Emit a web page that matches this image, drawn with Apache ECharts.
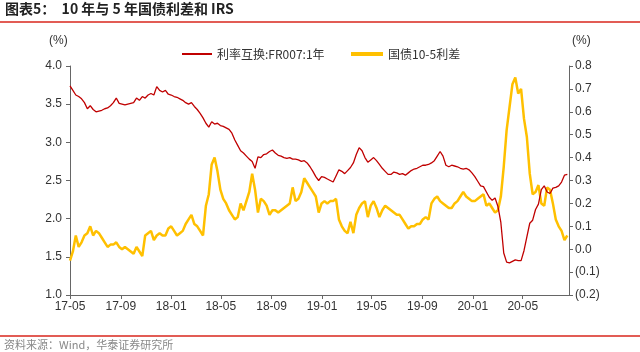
<!DOCTYPE html>
<html><head><meta charset="utf-8">
<script src="https://cdn.jsdelivr.net/npm/echarts@6/dist/echarts.min.js"></script>
<style>html,body{margin:0;padding:0;background:#fff}#c{width:640px;height:352px}</style>
</head><body><div id="c"></div>
<script>
// weekly observations starting 2017-05-01
const startDate = [2017, 4, 1];
const endDate = [2020, 7, 21];
const stepDays = 7;
const irsFR007 = [
3.74,3.68,3.62,3.60,3.57,3.52,3.44,3.48,3.43,3.40,3.41,3.42,3.44,3.45,3.48,3.52,3.58,3.51,3.50,3.49,
3.50,3.51,3.52,3.58,3.55,3.60,3.58,3.62,3.64,3.62,3.73,3.68,3.66,3.68,3.63,3.62,3.60,3.59,3.57,3.55,
3.52,3.50,3.52,3.47,3.43,3.38,3.32,3.25,3.20,3.27,3.24,3.25,3.22,3.21,3.19,3.17,3.12,3.03,2.96,2.89,
2.86,2.82,2.78,2.75,2.66,2.81,2.80,2.84,2.85,2.88,2.90,2.86,2.83,2.82,2.80,2.79,2.80,2.78,2.78,2.77,
2.75,2.76,2.73,2.68,2.62,2.55,2.50,2.55,2.54,2.52,2.50,2.48,2.56,2.64,2.62,2.59,2.63,2.67,2.73,2.84,
2.93,2.89,2.80,2.74,2.77,2.80,2.76,2.71,2.66,2.62,2.58,2.58,2.61,2.60,2.58,2.59,2.57,2.60,2.63,2.65,
2.66,2.68,2.70,2.70,2.71,2.73,2.76,2.82,2.88,2.82,2.70,2.68,2.70,2.69,2.68,2.66,2.65,2.66,2.64,2.60,
2.55,2.49,2.43,2.42,2.35,2.28,2.24,2.27,2.16,1.95,1.55,1.43,1.42,1.44,1.46,1.45,1.45,1.58,1.76,1.94,
1.98,2.12,2.19,2.38,2.43,2.35,2.33,2.40,2.41,2.43,2.48,2.57,2.58
];
const spread10y5y = [
-0.05,-0.01,0.06,0.01,0.03,0.06,0.07,0.10,0.06,0.08,0.07,0.05,0.03,0.01,0.02,0.02,0.03,0.01,0.00,0.01,
0.00,-0.01,-0.02,0.01,-0.01,-0.03,0.06,0.07,0.08,0.04,0.06,0.07,0.06,0.06,0.09,0.10,0.08,0.06,0.07,0.08,
0.11,0.13,0.15,0.11,0.10,0.08,0.06,0.19,0.24,0.37,0.40,0.34,0.26,0.22,0.20,0.17,0.15,0.13,0.14,0.20,
0.17,0.21,0.25,0.33,0.26,0.16,0.22,0.21,0.19,0.15,0.17,0.17,0.16,0.17,0.18,0.19,0.20,0.27,0.21,0.22,
0.25,0.31,0.29,0.27,0.25,0.23,0.16,0.20,0.21,0.20,0.21,0.21,0.22,0.13,0.10,0.08,0.07,0.12,0.07,0.15,
0.18,0.20,0.21,0.14,0.19,0.21,0.18,0.14,0.17,0.19,0.18,0.17,0.16,0.15,0.15,0.13,0.11,0.09,0.10,0.10,
0.11,0.11,0.13,0.14,0.13,0.20,0.22,0.23,0.21,0.20,0.19,0.18,0.18,0.20,0.21,0.23,0.25,0.23,0.22,0.21,
0.21,0.22,0.23,0.24,0.19,0.20,0.18,0.16,0.17,0.23,0.36,0.52,0.62,0.72,0.75,0.68,0.70,0.57,0.49,0.33,
0.24,0.25,0.28,0.20,0.19,0.27,0.26,0.20,0.13,0.10,0.08,0.04,0.06
];
const xTickLabels = ['17-05','17-09','18-01','18-05','18-09','19-01','19-05','19-09','20-01','20-05'];
const seriesNames = ['利率互换:FR007:1年', '国债10-5利差'];

const DAY = 86400000;
const t0 = Date.UTC(startDate[0], startDate[1], startDate[2]);
function dayOffset(y, m, d) { return Math.round((Date.UTC(y, m, d) - t0) / DAY); }
const dayX = irsFR007.map((_, i) => i * stepDays);
const tickDays = xTickLabels.map(s => dayOffset(2000 + parseInt(s.slice(0, 2)), parseInt(s.slice(3)) - 1, 1));
const labelByDay = {};
tickDays.forEach((d, i) => { labelByDay[d] = xTickLabels[i]; });

const font = '"Liberation Sans", Arial, "Noto Sans CJK SC", sans-serif';
const legendText = {fontSize: 12, color: '#333', fontFamily: '"Noto Sans CJK SC", "Liberation Sans", sans-serif'};
const chart = echarts.init(document.getElementById('c'), null, {renderer: 'canvas'});
chart.setOption({
  animation: false,
  backgroundColor: '#fff',
  textStyle: {fontFamily: font},
  grid: {left: 70, right: 71, top: 66, bottom: 57},
  legend: [
    {left: 177, top: 43, itemWidth: 30, itemHeight: 2, icon: 'rect', data: [seriesNames[0]], textStyle: legendText},
    {left: 346, top: 43, itemWidth: 32, itemHeight: 4, icon: 'rect', data: [seriesNames[1]], textStyle: legendText}
  ],
  graphic: [
    {type: 'text', left: 5, top: 2, style: {text: '图表5：  10 年与 5 年国债利差和 IRS', font: 'bold 14px "Noto Sans CJK SC", "Liberation Sans", sans-serif', fill: '#222'}},
    {type: 'line', shape: {x1: 0, y1: 22, x2: 640, y2: 22}, style: {stroke: '#d9261c', lineWidth: 1.5}},
    {type: 'line', shape: {x1: 0, y1: 336, x2: 640, y2: 336}, style: {stroke: '#d9261c', lineWidth: 1.5}},
    {type: 'text', left: 4, top: 339, style: {text: '资料来源：Wind，华泰证券研究所', font: '11px "Noto Sans CJK SC", sans-serif', fill: '#888'}},
    {type: 'text', left: 49, top: 35, style: {text: '(%)', font: '12px "Liberation Sans", Arial, sans-serif', fill: '#333'}},
    {type: 'text', left: 572, top: 35, style: {text: '(%)', font: '12px "Liberation Sans", Arial, sans-serif', fill: '#333'}}
  ],
  xAxis: {
    type: 'value',
    min: 0,
    max: dayOffset(endDate[0], endDate[1], endDate[2]),
    splitLine: {show: false},
    axisLine: {onZero: false, lineStyle: {color: '#666', width: 1}},
    axisTick: {show: true, customValues: tickDays, length: 4, lineStyle: {color: '#666'}},
    axisLabel: {
      customValues: tickDays, color: '#333', fontSize: 12, margin: 6, fontFamily: font,
      formatter: function (v) { return labelByDay[Math.round(v)] || ''; }
    }
  },
  yAxis: [
    {
      type: 'value', min: 1, max: 4, interval: 0.5, position: 'left',
      splitLine: {show: false},
      axisLine: {show: true, onZero: false, lineStyle: {color: '#666'}},
      axisTick: {show: true, length: 4, lineStyle: {color: '#666'}},
      axisLabel: {color: '#333', fontSize: 12, margin: 8, fontFamily: font, formatter: v => v.toFixed(1)}
    },
    {
      type: 'value', min: -0.2, max: 0.8, interval: 0.1, position: 'right',
      splitLine: {show: false},
      axisLine: {show: true, onZero: false, lineStyle: {color: '#666'}},
      axisTick: {show: true, length: 4, lineStyle: {color: '#666'}},
      axisLabel: {color: '#333', fontSize: 12, margin: 6, fontFamily: font,
        formatter: v => { const r = Math.round(v * 10) / 10; return r < 0 ? '(' + Math.abs(r).toFixed(1) + ')' : r.toFixed(1); }}
    }
  ],
  series: [
    {
      name: seriesNames[0], type: 'line', yAxisIndex: 0, showSymbol: false, symbol: 'none',
      lineStyle: {color: '#c00000', width: 1.3}, itemStyle: {color: '#c00000'},
      data: irsFR007.map((v, i) => [dayX[i], v]), z: 3
    },
    {
      name: seriesNames[1], type: 'line', yAxisIndex: 1, showSymbol: false, symbol: 'none',
      lineStyle: {color: '#ffc000', width: 2.5}, itemStyle: {color: '#ffc000'},
      data: spread10y5y.map((v, i) => [dayX[i], v]), z: 2
    }
  ]
});
</script></body></html>
